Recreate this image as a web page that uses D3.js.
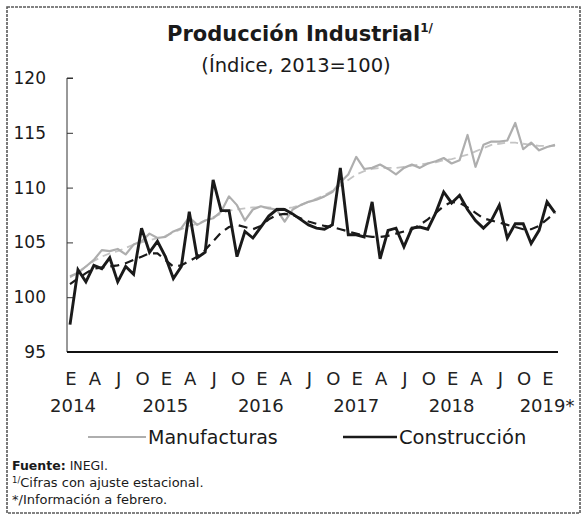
<!DOCTYPE html>
<html><head><meta charset="utf-8">
<script src="https://cdn.jsdelivr.net/npm/d3@7"></script>
<style>body{margin:0;background:#fff}svg{display:block}text{font-family:"DejaVu Sans","Open Sans",sans-serif}</style>
</head><body><svg id="c" width="587" height="520"></svg>
<script>
const startYear = 2014;
const monthLetters = ["E","A","J","O"];
const yearLabels = ["2014","2015","2016","2017","2018","2019*"];
const yTicks = [95,100,105,110,115,120];
const manufacturas = [101.9,102.2,102.8,103.4,104.3,104.2,104.4,103.9,104.8,105.1,105.8,105.4,
  105.5,106.0,106.3,107.3,106.6,107.0,107.2,107.8,109.2,108.4,107.0,108.0,
  108.3,108.1,108.0,106.9,108.0,108.4,108.7,108.9,109.2,109.6,110.5,111.2,
  112.8,111.7,111.8,112.1,111.7,111.2,111.8,112.1,111.8,112.2,112.4,112.7,
  112.2,112.5,114.8,111.9,113.9,114.2,114.2,114.3,115.9,113.5,114.1,113.4,
  113.7,113.9];
const manufacturasTend = [101.8,102.3,102.8,103.3,103.7,104.0,104.2,104.5,104.8,105.0,105.2,105.4,
  105.6,105.9,106.2,106.5,106.7,107.0,107.3,107.6,107.9,108.0,108.1,108.2,
  108.2,108.2,108.1,108.1,108.2,108.4,108.7,109.0,109.3,109.7,110.2,110.7,
  111.2,111.5,111.7,111.8,111.8,111.8,111.9,112.0,112.1,112.2,112.3,112.5,
  112.6,112.8,113.0,113.3,113.6,113.9,114.0,114.1,114.1,114.0,113.9,113.8,
  113.8,113.8];
const construccion = [97.5,102.5,101.4,102.9,102.6,103.6,101.4,102.8,102.1,106.3,104.1,105.1,
  103.7,101.7,102.8,107.8,103.6,104.1,110.7,107.9,107.9,103.7,106.0,105.4,
  106.4,107.4,108.0,108.0,107.6,107.1,106.6,106.3,106.2,106.6,111.8,105.7,
  105.7,105.5,108.7,103.5,106.1,106.3,104.6,106.3,106.4,106.2,107.7,109.6,
  108.6,109.3,108.0,107.0,106.3,107.0,108.4,105.4,106.7,106.7,104.9,106.1,
  108.7,107.7];
const construccionTend = [101.2,101.7,102.2,102.6,102.7,102.8,102.9,103.1,103.4,103.7,104.0,104.0,
  103.4,102.8,102.9,103.3,103.7,104.3,105.1,105.9,106.4,106.6,106.4,106.2,
  106.5,107.1,107.5,107.6,107.5,107.2,106.9,106.7,106.5,106.4,106.2,106.0,
  105.8,105.6,105.5,105.5,105.6,105.8,106.0,106.2,106.6,107.1,107.7,108.3,
  108.7,108.6,108.2,107.7,107.2,107.0,106.8,106.6,106.4,106.2,106.2,106.5,
  107.1,107.7];

const svg = d3.select("#c");
const x = d3.scaleLinear().domain([0, construccion.length - 1]).range([70, 555]);
const y = d3.scaleLinear().domain([95, 120]).range([352, 78]);

// border
svg.append("rect").attr("x",7).attr("y",7).attr("width",573).attr("height",506)
  .attr("fill","none").attr("stroke","#5a5a5a").attr("stroke-width",1.6).attr("stroke-dasharray","3,1");

// title
const t = svg.append("text").attr("x",300).attr("y",41).attr("text-anchor","middle")
  .attr("font-size",21).attr("font-weight","bold").attr("fill","#1a1a1a");
t.append("tspan").text("Producción Industrial");
t.append("tspan").attr("font-size",12).attr("dy",-9).text("1/");
svg.append("text").attr("x",296).attr("y",72).attr("text-anchor","middle")
  .attr("font-size",19.5).attr("fill","#1a1a1a").text("(Índice, 2013=100)");

// y axis
const yAxis = d3.axisRight(y).tickValues(yTicks).tickSize(6).tickFormat("");
const ya = svg.append("g").attr("transform","translate(67,0)").call(yAxis);
ya.selectAll("path,line").attr("stroke","#333").attr("stroke-width",1);
ya.select(".domain").attr("d", `M6,${y(120)}H0V${y(95)}`);
svg.append("g").selectAll("text").data(yTicks).join("text")
  .attr("x",46).attr("y",d=>y(d)+6).attr("text-anchor","end")
  .attr("font-size",17).attr("fill","#1a1a1a").text(d=>d);

// x baseline
svg.append("line").attr("x1",67).attr("x2",558).attr("y1",y(95)).attr("y2",y(95))
  .attr("stroke","#111").attr("stroke-width",2.2);

// month letters
const quarters = d3.range(0, construccion.length, 3);
svg.append("g").selectAll("text").data(quarters).join("text")
  .attr("x",d=>x(d)+1).attr("y",385).attr("text-anchor","middle")
  .attr("font-size",18).attr("fill","#222").text(d=>monthLetters[(d/3)%4]);
svg.append("g").selectAll("text").data(yearLabels).join("text")
  .attr("x",(d,i)=>x(i*12) + (i===0 ? 3 : 0)).attr("y",412)
  .attr("text-anchor","middle")
  .attr("font-size",18).attr("fill","#222").text(d=>d);

// lines
const line = d3.line().x((d,i)=>x(i)).y(d=>y(d));
svg.append("path").datum(manufacturasTend).attr("d",line).attr("fill","none")
  .attr("stroke","#c4c4c4").attr("stroke-width",1.8).attr("stroke-dasharray","8,5");
svg.append("path").datum(manufacturas).attr("d",line).attr("fill","none")
  .attr("stroke","#aeaeae").attr("stroke-width",2.2).attr("stroke-linejoin","round");
svg.append("path").datum(construccionTend).attr("d",line).attr("fill","none")
  .attr("stroke","#1a1a1a").attr("stroke-width",2.2).attr("stroke-dasharray","9,6");
svg.append("path").datum(construccion).attr("d",line).attr("fill","none")
  .attr("stroke","#1a1a1a").attr("stroke-width",2.9).attr("stroke-linejoin","miter");

// legend
const lg = svg.append("g");
lg.append("line").attr("x1",88).attr("x2",146).attr("y1",437).attr("y2",437).attr("stroke","#aeaeae").attr("stroke-width",2.2);
lg.append("text").attr("x",148).attr("y",444).attr("font-size",19).attr("fill","#1a1a1a").text("Manufacturas");
lg.append("line").attr("x1",343).attr("x2",397).attr("y1",437).attr("y2",437).attr("stroke","#1a1a1a").attr("stroke-width",2.6);
lg.append("text").attr("x",399).attr("y",444).attr("font-size",19.5).attr("fill","#1a1a1a").text("Construcción");

// footnotes
const f1 = svg.append("text").attr("x",12).attr("y",470).attr("font-size",12.5).attr("fill","#1a1a1a");
f1.append("tspan").attr("font-weight","bold").text("Fuente:");
f1.append("tspan").text(" INEGI.");
const f2 = svg.append("text").attr("x",12).attr("y",487).attr("font-size",13).attr("fill","#1a1a1a");
f2.append("tspan").attr("font-size",8.5).attr("dy",-4).text("1/");
f2.append("tspan").attr("dy",4).text("Cifras con ajuste estacional.");
svg.append("text").attr("x",12).attr("y",504).attr("font-size",13).attr("fill","#1a1a1a").text("*/Información a febrero.");
</script></body></html>
